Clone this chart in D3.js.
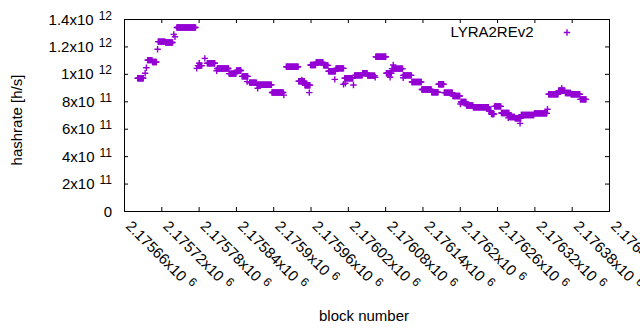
<!DOCTYPE html>
<html>
<head>
<meta charset="utf-8">
<script src="https://cdn.jsdelivr.net/npm/d3@7"></script>
<style>
body { margin: 0; background: #fff; }
text { font-family: "Liberation Sans", Arial, sans-serif; fill: #000; }
</style>
</head>
<body>
<div id="chart"></div>
<script>
// runs of consecutive blocks that share one hashrate estimate (first block, last block, h/s)
var runFirst = [2175682, 2175694, 2175696, 2175698, 2175706, 2175714, 2175715, 2175727, 2175740, 2175742,
    2175745, 2175777, 2175779, 2175781, 2175790, 2175794, 2175809, 2175810, 2175829, 2175841,
    2175850, 2175858, 2175862, 2175875, 2175874, 2175898, 2175917, 2175921, 2175941, 2175946,
    2175951, 2175958, 2175960, 2175969, 2175981, 2175989, 2175999, 2176001, 2176013, 2176016,
    2176015, 2176029, 2176031, 2176044, 2176052, 2176064, 2176065, 2176082, 2176088, 2176093,
    2176091, 2176109, 2176109, 2176123, 2176139, 2176155, 2176166, 2176175, 2176189, 2176201,
    2176202, 2176211, 2176222, 2176247, 2176251, 2176256, 2176267, 2176278, 2176280, 2176289,
    2176297, 2176299, 2176320, 2176341, 2176343, 2176359, 2176364, 2176370, 2176379, 2176394];
var runLast = [2175691, 2175694, 2175696, 2175705, 2175712, 2175714, 2175726, 2175738, 2175740, 2175742,
    2175775, 2175777, 2175785, 2175781, 2175790, 2175806, 2175809, 2175828, 2175840, 2175848,
    2175859, 2175858, 2175873, 2175875, 2175897, 2175916, 2175917, 2175940, 2175950, 2175946,
    2175959, 2175958, 2175968, 2175980, 2175988, 2176000, 2175999, 2176013, 2176013, 2176016,
    2176028, 2176029, 2176043, 2176051, 2176063, 2176064, 2176081, 2176090, 2176088, 2176093,
    2176108, 2176122, 2176109, 2176138, 2176154, 2176165, 2176174, 2176188, 2176200, 2176201,
    2176210, 2176221, 2176246, 2176250, 2176255, 2176266, 2176279, 2176278, 2176288, 2176298,
    2176297, 2176319, 2176340, 2176341, 2176358, 2176369, 2176364, 2176378, 2176393, 2176403];
var runHash = [9.68e11, 10.04e11, 10.45e11, 11.0e11, 10.86e11, 11.79e11, 12.35e11, 12.29e11, 12.88e11, 12.71e11,
    13.38e11, 10.40e11, 10.6e11, 10.77e11, 11.13e11, 10.77e11, 10.23e11, 10.39e11, 10.02e11, 10.24e11,
    9.82e11, 9.43e11, 9.36e11, 8.95e11, 9.21e11, 8.64e11, 8.45e11, 10.52e11, 9.46e11, 9.55e11,
    9.17e11, 8.63e11, 10.65e11, 10.84e11, 10.62e11, 10.19e11, 9.60e11, 10.40e11, 9.24e11, 9.31e11,
    9.68e11, 9.19e11, 9.89e11, 10.04e11, 9.87e11, 9.75e11, 11.25e11, 10.04e11, 9.75e11, 10.65e11,
    10.38e11, 9.89e11, 9.72e11, 9.41e11, 8.86e11, 8.66e11, 9.24e11, 8.63e11, 8.39e11, 7.80e11,
    7.95e11, 7.69e11, 7.56e11, 7.29e11, 7.07e11, 7.63e11, 7.15e11, 6.79e11, 6.85e11, 6.76e11,
    6.39e11, 7.0e11, 7.12e11, 7.42e11, 8.51e11, 8.77e11, 8.95e11, 8.60e11, 8.51e11, 8.14e11];

var xTickValues = [2175660, 2175720, 2175780, 2175840, 2175900, 2175960, 2176020,
    2176080, 2176140, 2176200, 2176260, 2176320, 2176380, 2176440];
var yTickValues = [0, 2e11, 4e11, 6e11, 8e11, 1e12, 1.2e12, 1.4e12];
var seriesName = "LYRA2REv2";

var width = 640,
    height = 330,
    plotLeft = 124, plotRight = 609, plotTop = 19, plotBottom = 211;
var purple = "#9400d3";

var svg = d3.select("#chart").append("svg")
    .attr("width", width)
    .attr("height", height);

var x = d3.scaleLinear().domain([2175660, 2176440]).range([plotLeft, plotRight]);
var y = d3.scaleLinear().domain([0, 1.4e12]).range([plotBottom, plotTop]);

// split a value into "mantissa x10" and exponent, gnuplot style
function sciParts(v) {
    if (v === 0) return ["0", null];
    var e = Math.floor(Math.log10(v) + 1e-9);
    var m = +(v / Math.pow(10, e)).toFixed(5);
    return [m + "x10", e];
}

// ticks on all four sides, pointing inward
function ticks(axis, tx, ty) {
    var g = svg.append("g")
        .attr("transform", "translate(" + tx + "," + ty + ")")
        .call(axis.tickSize(-4).tickFormat(""));
    g.select(".domain").remove();
    g.selectAll("line").attr("stroke", "#000");
}
ticks(d3.axisLeft(y).tickValues(yTickValues), plotLeft, 0);
ticks(d3.axisRight(y).tickValues(yTickValues), plotRight, 0);
ticks(d3.axisBottom(x).tickValues(xTickValues), 0, plotBottom);
ticks(d3.axisTop(x).tickValues(xTickValues), 0, plotTop);

svg.append("rect")
    .attr("x", plotLeft + 0.5).attr("y", plotTop + 0.5)
    .attr("width", plotRight - plotLeft).attr("height", plotBottom - plotTop)
    .attr("fill", "none").attr("stroke", "#000").attr("stroke-width", 1);

// y tick labels
var yl = svg.selectAll(".ylab").data(yTickValues).enter()
    .append("text")
    .attr("class", "ylab")
    .attr("x", 112)
    .attr("y", function(d) { return y(d) + 5.5; })
    .attr("text-anchor", "end")
    .style("font-size", "15px");
yl.append("tspan").text(function(d) { return sciParts(d)[0]; });
yl.filter(function(d) { return d !== 0; })
    .append("tspan")
    .attr("dx", 5).attr("dy", -5)
    .style("font-size", "12px")
    .text(function(d) { return sciParts(d)[1]; });

// x tick labels, rotated
var xl = svg.selectAll(".xlab").data(xTickValues).enter()
    .append("text")
    .attr("class", "xlab")
    .attr("transform", function(d) { return "translate(" + (x(d) + 1) + ",227) rotate(45)"; })
    .style("font-size", "15px");
xl.append("tspan").text(function(d) { return sciParts(d)[0]; });
xl.append("tspan")
    .attr("dx", 5).attr("dy", -5)
    .style("font-size", "12px")
    .text(function(d) { return sciParts(d)[1]; });

// axis titles
svg.append("text")
    .attr("transform", "translate(21.5,120) rotate(-90)")
    .attr("text-anchor", "middle")
    .style("font-size", "15px")
    .text("hashrate [h/s]");
svg.append("text")
    .attr("x", 364).attr("y", 321)
    .attr("text-anchor", "middle")
    .style("font-size", "15px")
    .text("block number");

// points
var points = [];
runFirst.forEach(function(first, i) {
    for (var b = first; b <= runLast[i]; b++) points.push({block: b, hash: runHash[i]});
});

var plus = "M-3.2,0H3.2M0,-3.2V3.2";
svg.append("g").selectAll("path").data(points).enter()
    .append("path")
    .attr("d", plus)
    .attr("transform", function(d) { return "translate(" + x(d.block) + "," + y(d.hash) + ")"; })
    .attr("fill", "none")
    .attr("stroke", purple)
    .attr("stroke-width", 1.4);

// legend
svg.append("text")
    .attr("x", 533.5).attr("y", 37)
    .attr("text-anchor", "end")
    .style("font-size", "15px")
    .text(seriesName);
svg.append("path")
    .attr("d", plus)
    .attr("transform", "translate(567,32.5)")
    .attr("fill", "none")
    .attr("stroke", purple)
    .attr("stroke-width", 1.4);
</script>
</body>
</html>
